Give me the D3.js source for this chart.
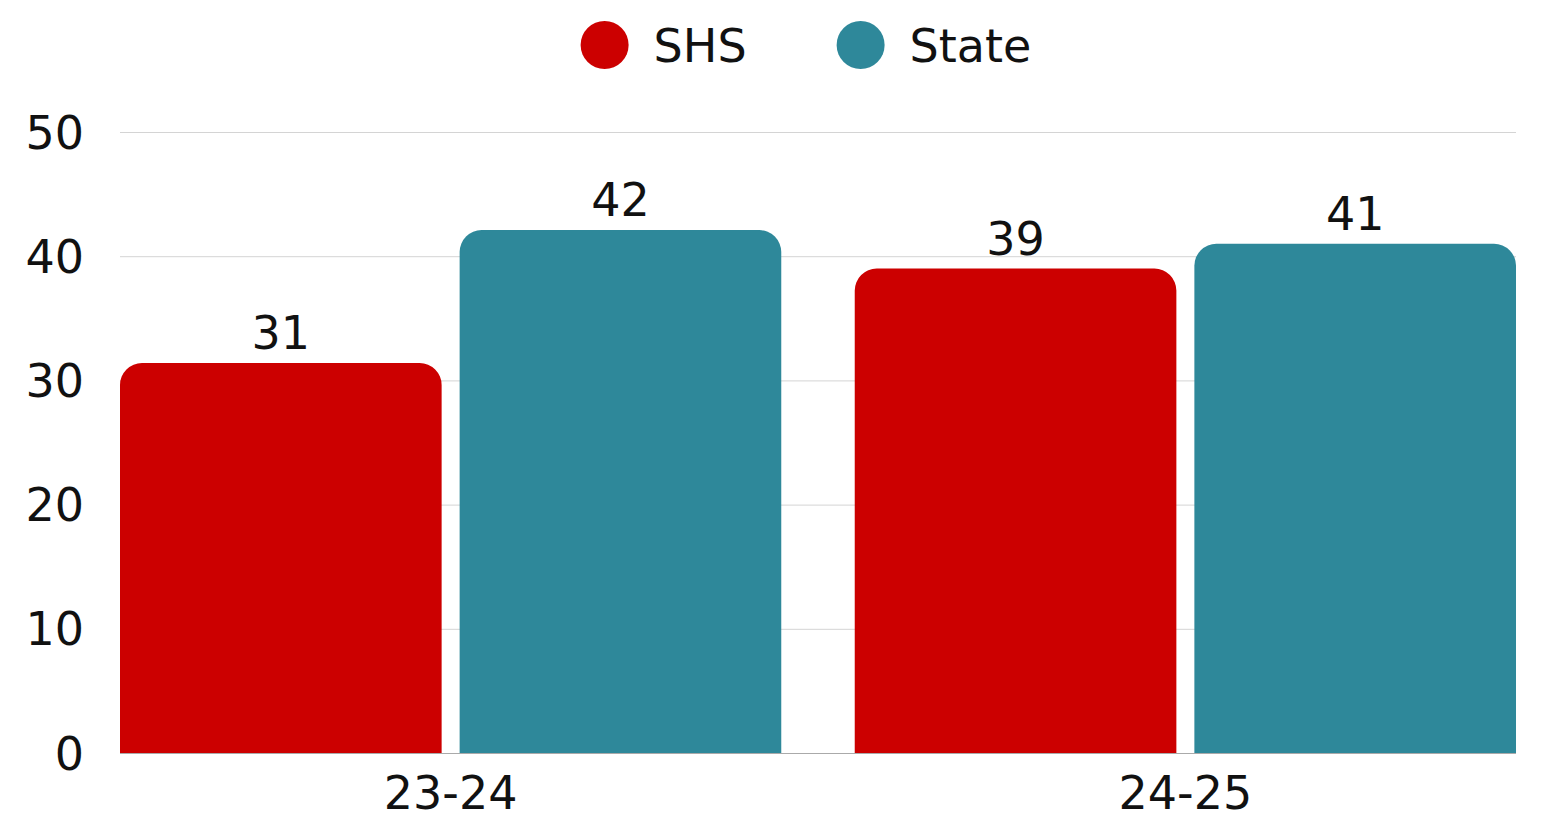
<!DOCTYPE html>
<html>
<head>
<meta charset="utf-8">
<script src="https://cdn.jsdelivr.net/npm/d3@7"></script>
<style>
  html, body { margin: 0; padding: 0; background: #fff; }
  svg { display: block; }
  text { font-family: "DejaVu Sans", sans-serif; fill: #111; }
</style>
</head>
<body>
<svg id="chart"></svg>
<script>
const categories = ['23-24', '24-25'];
const seriesNames = ['SHS', 'State'];
const shsValues = [31.4, 39];
const stateValues = [42.1, 41];
const yTicks = [0, 10, 20, 30, 40, 50];
const seriesColors = ['#cc0000', '#2e889a'];

const width = 1541, height = 821;
const margin = { top: 132, right: 25, bottom: 68, left: 120 };
const fontSize = 46;

const svg = d3.select('#chart').attr('width', width).attr('height', height);

const rows = categories.map((c, i) => ({ category: c, values: [shsValues[i], stateValues[i]] }));

const x0 = d3.scaleBand().domain(categories).range([margin.left, width - margin.right]).paddingInner(0.1).paddingOuter(0);
const x1 = d3.scaleBand().domain(seriesNames).range([0, x0.bandwidth()]).paddingInner(0.053).paddingOuter(0);
const y = d3.scaleLinear().domain([0, 50]).range([height - margin.bottom, margin.top]);
const color = d3.scaleOrdinal().domain(seriesNames).range(seriesColors);

// gridlines
svg.append('g')
    .selectAll('line')
    .data(yTicks)
    .enter()
    .append('line')
    .attr('x1', margin.left)
    .attr('x2', width - margin.right)
    .attr('y1', d => y(d) + 0.5)
    .attr('y2', d => y(d) + 0.5)
    .attr('stroke', d => d === 0 ? '#aaaaaa' : '#d4d4d4')
    .attr('stroke-width', 1);

// y tick labels
svg.append('g')
    .selectAll('text')
    .data(yTicks)
    .enter()
    .append('text')
    .attr('x', 84)
    .attr('y', d => y(d))
    .attr('dy', '0.36em')
    .attr('text-anchor', 'end')
    .style('font-size', fontSize + 'px')
    .text(d => d);

// bar with rounded top corners
const barPath = (x, yTop, w, yBottom, r) => {
    r = Math.min(r, w / 2, yBottom - yTop);
    return `M${x},${yBottom}V${yTop + r}A${r},${r} 0 0 1 ${x + r},${yTop}H${x + w - r}A${r},${r} 0 0 1 ${x + w},${yTop + r}V${yBottom}Z`;
};

const groups = svg.append('g')
    .selectAll('g')
    .data(rows)
    .enter()
    .append('g')
    .attr('transform', d => `translate(${x0(d.category)},0)`);

const bars = groups.selectAll('g')
    .data(d => d.values.map((v, i) => ({ name: seriesNames[i], value: v })))
    .enter()
    .append('g');

bars.append('path')
    .attr('fill', d => color(d.name))
    .attr('d', d => barPath(x1(d.name), y(d.value), x1.bandwidth(), y(0), 22));

bars.append('text')
    .attr('x', d => x1(d.name) + x1.bandwidth() / 2)
    .attr('y', d => y(d.value) - 14)
    .attr('text-anchor', 'middle')
    .style('font-size', fontSize + 'px')
    .text(d => d3.format('.0f')(d.value));

// x labels
svg.append('g')
    .selectAll('text')
    .data(categories)
    .enter()
    .append('text')
    .attr('x', d => x0(d) + x0.bandwidth() / 2)
    .attr('y', 809)
    .attr('text-anchor', 'middle')
    .style('font-size', fontSize + 'px')
    .text(d => d);

// legend
const legend = svg.append('g');
const r = 24, textGap = 25, itemGap = 90;
let cursor = 0;
seriesNames.forEach(name => {
    const item = legend.append('g').attr('transform', `translate(${cursor},0)`);
    item.append('circle').attr('cx', r).attr('cy', 45).attr('r', r).attr('fill', color(name));
    const t = item.append('text')
        .attr('x', 2 * r + textGap)
        .attr('y', 62)
        .style('font-size', fontSize + 'px')
        .text(name);
    cursor += 2 * r + textGap + t.node().getComputedTextLength() + itemGap;
});
const legendWidth = cursor - itemGap;
legend.attr('transform', `translate(${806 - legendWidth / 2},0)`);
</script>
</body>
</html>
